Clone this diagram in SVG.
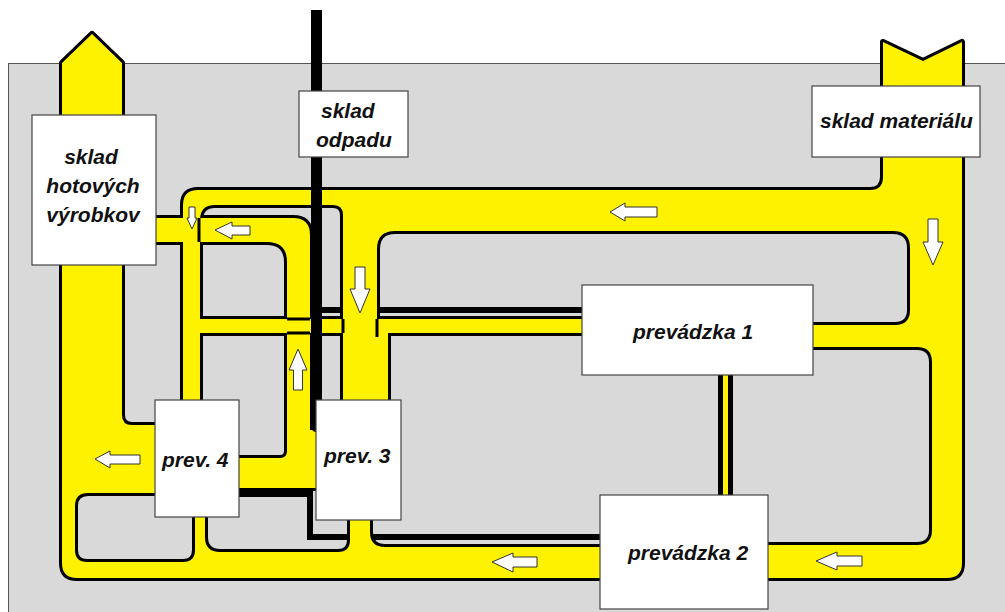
<svg xmlns="http://www.w3.org/2000/svg" xmlns:xlink="http://www.w3.org/1999/xlink" width="1005" height="612" viewBox="0 0 1005 612">
<style>
.ol{fill:#000;stroke:#000;stroke-width:6;stroke-linejoin:round}
.fl{fill:#fff200;stroke:none}
.waste{fill:none;stroke:#000;stroke-width:6}
.sep{fill:none;stroke:#000;stroke-width:3}
.arr{fill:#fff;stroke:#333;stroke-width:1}
.box{fill:#fff;stroke:#444;stroke-width:1.2}
.lbl{font-family:"Liberation Sans",Arial,sans-serif;font-weight:bold;font-style:italic;font-size:21px;fill:#111}
</style>
<defs>
<g id="pipeShapes">
<path d="M62,63 L92,34 L122,63 L122,415 Q122,425 132,425 L170,425 L170,493 L88,493 Q75,493 75,506 L75,550 Q75,562 87,562 L183,562 Q195,562 195,550 L195,505 L205,505 L205,537 Q205,552 220,552 L338,552 Q350,552 350,540 L350,505 L370,505 L370,532 Q370,547 385,547 L610,547 L610,578 L77,578 Q62,578 62,563 Z"/>
<path d="M140,218 L293,218 Q310,218 310,235 L310,430 L330,430 L330,488 L225,488 L225,458 L280,458 Q287,458 287,451 L287,262 Q287,242 267,242 L140,242 Z"/>
<path d="M183,415 L183,205 Q183,190 198,190 L870,190 Q883,190 883,177 L883,42 L923,61 L962,42 L962,563 Q962,578 947,578 L755,578 L755,545 L917,545 Q932,545 932,530 L932,362 Q932,347 917,347 L800,347 L800,325 L895,325 Q910,325 910,310 L910,248 Q910,231 893,231 L395,231 Q377,231 377,249 L377,333 L388,333 L388,410 L343,410 L343,215 Q343,205 333,205 L215,205 Q200,205 200,220 L200,415 Z"/>
<path d="M195,319 L595,319 L595,333 L195,333 Z"/>
</g>
</defs>
<g id="background">
<rect x="8.5" y="63.5" width="1010" height="560" fill="#d9d9d9" stroke="#555" stroke-width="1"/>
</g>
<g id="connectors">
<g id="waste-under">
<line class="waste" x1="316" y1="310" x2="590" y2="310" stroke-width="5"/>
<path class="waste" d="M230,494 L310,494 L310,537 L610,537"/>
</g>
<g id="pipes">
<use xlink:href="#pipeShapes" href="#pipeShapes" class="ol"/>
<use xlink:href="#pipeShapes" href="#pipeShapes" class="fl"/>
<rect x="718" y="370" width="15" height="130" fill="#000"/>
<rect x="723" y="370" width="5" height="130" fill="#fff200"/>
<path class="sep" d="M287,319 H310 M287,333 H310 M343,319 V333 M377,319 V337 M199,218 V242"/>
</g>
<path id="waste-main" d="M311,10 L322,10 L322,432 L316,432 Q311,432 311,425 Z" fill="#000"/>
<g id="arrows">
<polygon class="arr" points="610,212 625,203 625,207 657,207 657,217 625,217 625,221"/>
<polygon class="arr" points="928,219 938,219 938,242 943,242 933,265 923,242 928,242"/>
<polygon class="arr" points="355,267 365,267 365,289 370,289 360,313 350,289 355,289"/>
<polygon class="arr" points="298,349 307,370 302.5,370 302.5,390 293.5,390 293.5,370 289,370"/>
<polygon class="arr" points="95,459 110,451 110,455 140,455 140,464 110,464 110,468"/>
<polygon class="arr" points="492,562 513,553 513,557 537,557 537,567 513,567 513,572"/>
<polygon class="arr" points="816,561 837,552 837,556 862,556 862,566 837,566 837,570"/>
<polygon class="arr" points="215,230 232,222 232,226 250,226 250,235 232,235 232,239"/>
<polygon class="arr" points="189,207 195,207 195,218 197,218 192,229 187,218 189,218"/>
</g>
</g>
<g id="node-sklad-hotovych">
<rect class="box" x="32" y="115" width="124" height="150"/>
<text class="lbl" x="91" y="164" text-anchor="middle">sklad</text>
<text class="lbl" x="93" y="193" text-anchor="middle">hotových</text>
<text class="lbl" x="93" y="222" text-anchor="middle">výrobkov</text>
</g>
<g id="node-sklad-odpadu">
<rect class="box" x="299" y="91" width="109" height="66"/>
<text class="lbl" x="321" y="118">sklad</text>
<text class="lbl" x="316" y="147">odpadu</text>
</g>
<g id="node-sklad-materialu">
<rect class="box" x="812" y="86" width="168" height="71"/>
<text class="lbl" x="820" y="128">sklad materiálu</text>
</g>
<g id="node-prevadzka-1">
<rect class="box" x="582" y="285" width="231" height="90"/>
<text class="lbl" x="633" y="339">prevádzka 1</text>
</g>
<g id="node-prevadzka-2">
<rect class="box" x="600" y="495" width="168" height="114"/>
<text class="lbl" x="628" y="560">prevádzka 2</text>
</g>
<g id="node-prev-3">
<rect class="box" x="316" y="400" width="85" height="120"/>
<text class="lbl" x="324" y="463">prev. 3</text>
</g>
<g id="node-prev-4">
<rect class="box" x="155" y="400" width="84" height="117"/>
<text class="lbl" x="162" y="467">prev. 4</text>
</g>
</svg>
